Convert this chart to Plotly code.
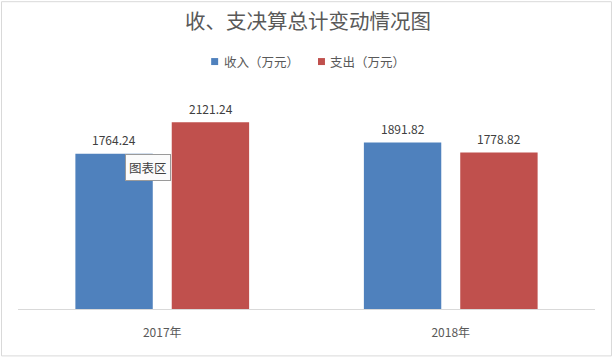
import plotly.graph_objects as go

categories = ["2017年", "2018年"]
income = [1764.24, 1891.82]
expense = [2121.24, 1778.82]
series_names = ["收入（万元）", "支出（万元）"]
series_colors = ["#4f81bd", "#c0504d"]
title_text = "收、支决算总计变动情况图"
tooltip_text = "图表区"

FONT = "Noto Sans CJK SC"
W, H = 616, 359
ml, mr, mt, mb = 17.5, 20.5, 88.5, 50
pw = W - ml - mr
ph = H - mt - mb
slot_half = 48.25  # pixel offset of each bar from category center

def px_x(p):
    return (p - ml) / pw

def px_y(q):
    return (H - mb - q) / ph

fig = go.Figure()
for name, vals, col in zip(series_names, [income, expense], series_colors):
    fig.add_trace(go.Bar(
        x=categories, y=vals, name=name,
        marker=dict(color=col, line=dict(width=0)),
        hoverinfo="skip", showlegend=False,
    ))

# data labels
for vals, shift in [(income, -slot_half), (expense, slot_half)]:
    for c, v in zip(categories, vals):
        fig.add_annotation(x=c, y=v, xref="x", yref="y", text=f"{v:.2f}",
                           showarrow=False, xanchor="center", yanchor="middle",
                           xshift=shift, yshift=14,
                           font=dict(family=FONT, size=12, color="#404040"))

fig.update_layout(
    width=W, height=H,
    margin=dict(l=ml, r=mr, t=mt, b=mb, pad=0),
    paper_bgcolor="white", plot_bgcolor="white",
    barmode="group", bargap=0.332, bargroupgap=0.197,
    font=dict(family=FONT, color="#595959"),
    title=dict(text=title_text, x=0.5, xanchor="center", y=1 - 22 / H, yanchor="middle",
               font=dict(family=FONT, size=20.5, color="#595959")),
    showlegend=False,
    xaxis=dict(showline=True, linecolor="#d9d9d9", linewidth=1, showgrid=False,
               ticks="", tickfont=dict(family=FONT, size=12, color="#595959"),
               ticklabelstandoff=13, fixedrange=True),
    yaxis=dict(range=[0, 2500], visible=False, showgrid=False, zeroline=False, fixedrange=True),
)

# manual legend
legend_pos = [(211, 222), (318, 328)]
for (sq, tx), name, col in zip(legend_pos, series_names, series_colors):
    fig.add_shape(type="rect", xref="paper", yref="paper",
                  x0=px_x(sq), x1=px_x(sq + 7), y0=px_y(64.5), y1=px_y(57.5),
                  line=dict(width=0), fillcolor=col)
    fig.add_annotation(xref="paper", yref="paper", x=px_x(tx), y=px_y(61),
                       xanchor="left", yanchor="middle", text=name, showarrow=False,
                       font=dict(family=FONT, size=12.5, color="#595959"))

# chart border
fig.add_shape(type="rect", xref="paper", yref="paper",
              x0=px_x(1), x1=px_x(612), y0=px_y(356), y1=px_y(1),
              line=dict(color="#d9d9d9", width=1), fillcolor="rgba(0,0,0,0)", layer="below")

# tooltip
fig.add_annotation(xref="paper", yref="paper", x=px_x(147.5), y=px_y(167.5),
                   xanchor="center", yanchor="middle",
                   text=tooltip_text, showarrow=False,
                   font=dict(family=FONT, size=12.5, color="#404040"),
                   bgcolor="#fbfbfb", bordercolor="#9a9a9a", borderwidth=1, borderpad=3)

fig.write_html("out.html", config={"displayModeBar": False},
               post_script="document.body.style.margin='0';document.body.style.overflow='hidden';")
